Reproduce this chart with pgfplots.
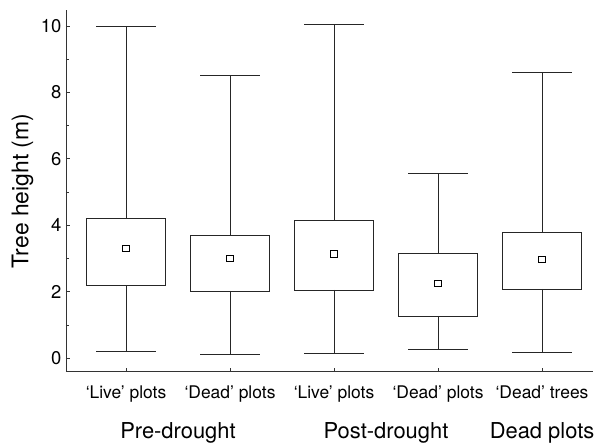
\documentclass[border=0pt]{standalone}
\usepackage{fontspec}
\setmainfont{TeX Gyre Heros}
\usepackage{pgfplots}
\pgfplotsset{compat=1.18}
\usepgfplotslibrary{statistics}
\begin{document}
\begin{tikzpicture}
\useasboundingbox (-66bp,-72.3bp) rectangle (531bp,371.7bp);
\begin{axis}[
  scale only axis, width=527bp, height=361.7bp,
  xmin=-0.577, xmax=4.49, ymin=-0.41, ymax=10.48,
  axis lines*=left,
  axis line style={black!80, line width=0.8pt},
  xtick={0,1,2,3,4},
  xticklabels={`Live' plots,`Dead' plots,`Live' plots,`Dead' plots,`Dead' trees},
  ytick={0,2,4,6,8,10},
  minor ytick={1,3,5,7,9},
  tick align=inside,
  major tick length=4bp, minor tick length=3bp,
  tick style={black!80, line width=0.6pt},
  /pgf/number format/assume math mode=true,
  yticklabel style={font=\fontsize{18.5}{22}\selectfont, xshift=-1bp},
  xticklabel style={font=\fontsize{17.5}{21}\selectfont, anchor=base, yshift=-26.3bp},
  ylabel={Tree height (m)},
  ylabel style={font=\fontsize{23}{27}\selectfont, at={([xshift=-29bp]rel axis cs:0,0.5)}, anchor=south, rotate=0},
  clip=false,
  boxplot/draw direction=y,
]
\pgfplotsset{every axis plot/.append style={black!85, line width=0.8pt}}
\addplot[boxplot prepared={lower whisker=0.2, lower quartile=2.2, median=2.2, upper quartile=4.2, upper whisker=10.0, draw position=0, box extend=0.76, whisker extend=0.57}] coordinates {};
\addplot[boxplot prepared={lower whisker=0.12, lower quartile=2.02, median=2.02, upper quartile=3.7, upper whisker=8.52, draw position=1, box extend=0.76, whisker extend=0.57}] coordinates {};
\addplot[boxplot prepared={lower whisker=0.15, lower quartile=2.05, median=2.05, upper quartile=4.15, upper whisker=10.05, draw position=2, box extend=0.76, whisker extend=0.57}] coordinates {};
\addplot[boxplot prepared={lower whisker=0.27, lower quartile=1.27, median=1.27, upper quartile=3.15, upper whisker=5.56, draw position=3, box extend=0.76, whisker extend=0.57}] coordinates {};
\addplot[boxplot prepared={lower whisker=0.18, lower quartile=2.08, median=2.08, upper quartile=3.77, upper whisker=8.6, draw position=4, box extend=0.76, whisker extend=0.57}] coordinates {};
\addplot[only marks, mark=square*, mark size=3.4pt, mark options={fill=white, draw=black, line width=0.8pt}] coordinates {(0,3.3) (1,3.0) (2,3.13) (3,2.25) (4,2.97)};
\node[font=\fontsize{22}{26}\selectfont, anchor=base] at ([yshift=-66.3bp]axis cs:0.5,-0.41) {Pre-drought};
\node[font=\fontsize{22}{26}\selectfont, anchor=base] at ([yshift=-66.3bp]axis cs:2.5,-0.41) {Post-drought};
\node[font=\fontsize{22}{26}\selectfont, anchor=base] at ([yshift=-66.3bp]axis cs:4,-0.41) {Dead plots};
\end{axis}
\end{tikzpicture}
\end{document}
